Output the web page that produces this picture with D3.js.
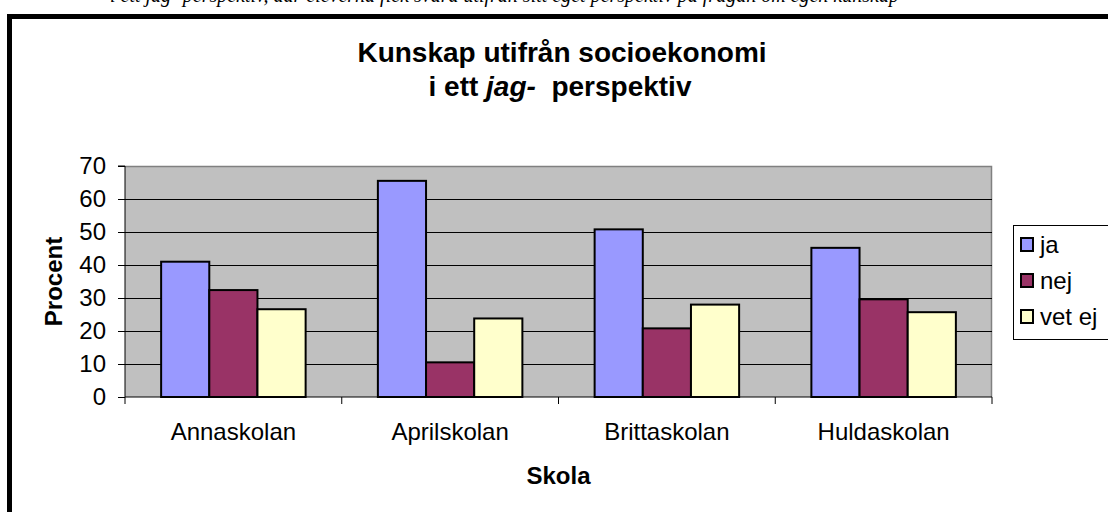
<!DOCTYPE html>
<html><head><meta charset="utf-8">
<script src="https://cdn.jsdelivr.net/npm/d3@7"></script>
<style>html,body{margin:0;padding:0;background:#fff;overflow:hidden}</style>
</head><body>
<svg id="c" width="1108" height="512"></svg>
<script>
const categories = ["Annaskolan", "Aprilskolan", "Brittaskolan", "Huldaskolan"];
const seriesNames = ["ja", "nej", "vet ej"];
const jaValues = [41.0, 65.5, 50.8, 45.2];
const nejValues = [32.4, 10.5, 20.8, 29.6];
const vetEjValues = [26.6, 23.8, 28.0, 25.7];
const yTicks = [0, 10, 20, 30, 40, 50, 60, 70];
const colors = ["#9999FF", "#993366", "#FFFFCC"];

const series = [jaValues, nejValues, vetEjValues];
const svg = d3.select("#c");
const F = "Arial, 'Liberation Sans', Helvetica, sans-serif";

// partial document text at the top (cut off by the page edge in the reference)
svg.append("text").attr("x", 110).attr("y", 2)
  .attr("font-family", "'Liberation Serif','Times New Roman',serif").attr("font-style", "italic")
  .attr("font-size", 20).attr("fill", "#000")
  .text("i ett jag- perspektiv, där eleverna fick svara utifrån sitt eget perspektiv på frågan om egen kunskap");

// frame
svg.append("rect").attr("x", 9.5).attr("y", 16.5).attr("width", 1200).attr("height", 600)
  .attr("fill", "#fff").attr("stroke", "#000").attr("stroke-width", 5);

const L = 125, R = 992, T = 166, B = 397;
const x0 = d3.scaleBand().domain(categories).range([L, R]).paddingInner(0).paddingOuter(0);
const inner = x0.bandwidth() / (3 + 1.5);
const y = d3.scaleLinear().domain([0, 70]).range([B, T]);

// plot area
svg.append("rect").attr("x", L).attr("y", T).attr("width", R - L).attr("height", B - T)
  .attr("fill", "#C0C0C0");
svg.append("path").attr("d", `M${L},${T + 0.5}H${R - 0.5}V${B}`).attr("fill", "none")
  .attr("stroke", "#808080").attr("stroke-width", 1.5);

// gridlines
svg.append("g").selectAll("line").data(yTicks.slice(1, -1)).join("line")
  .attr("x1", L).attr("x2", R).attr("y1", d => Math.round(y(d)) + 0.5).attr("y2", d => Math.round(y(d)) + 0.5)
  .attr("stroke", "#000").attr("stroke-width", 1);

// bars
const g = svg.append("g");
categories.forEach((c, i) => {
  series.forEach((s, j) => {
    g.append("rect")
      .attr("x", x0(c) + inner * 0.75 + j * inner)
      .attr("y", y(s[i]))
      .attr("width", inner)
      .attr("height", y(0) - y(s[i]))
      .attr("fill", colors[j]).attr("stroke", "#000").attr("stroke-width", 2);
  });
});

// y axis
const yAxis = d3.axisLeft(y).tickValues(yTicks).tickSize(7).tickPadding(12);
const ya = svg.append("g").attr("transform", `translate(${L},0)`).call(yAxis);
ya.selectAll("text").attr("font-family", F).attr("font-size", 24).attr("fill", "#000");
ya.selectAll("line").attr("stroke", "#000");
ya.select(".domain").attr("stroke", "#000").attr("d", `M-7,${T}H0V${B}`);

// x axis
const xa = svg.append("g").attr("transform", `translate(0,${B})`);
xa.append("line").attr("x1", L).attr("x2", R).attr("y1", 0).attr("y2", 0).attr("stroke", "#000").attr("stroke-width", 1);
const bounds = categories.map(c => x0(c)).concat([R]);
xa.selectAll("line.t").data(bounds).join("line").attr("class", "t")
  .attr("x1", d => d).attr("x2", d => d).attr("y1", 0).attr("y2", 7).attr("stroke", "#000");
xa.selectAll("text").data(categories).join("text")
  .attr("x", d => x0(d) + x0.bandwidth() / 2).attr("y", 43)
  .attr("text-anchor", "middle").attr("font-family", F).attr("font-size", 24).attr("fill", "#000")
  .text(d => d);

// axis titles
svg.append("text").attr("x", (L + R) / 2).attr("y", 484).attr("text-anchor", "middle")
  .attr("font-family", F).attr("font-size", 24).attr("font-weight", "bold").text("Skola");
svg.append("text").attr("transform", `translate(62,${(T + B) / 2}) rotate(-90)`).attr("text-anchor", "middle")
  .attr("font-family", F).attr("font-size", 24).attr("font-weight", "bold").text("Procent");

// title
const t1 = svg.append("text").attr("x", 562).attr("y", 62).attr("text-anchor", "middle")
  .attr("font-family", F).attr("font-size", 28).attr("font-weight", "bold");
t1.text("Kunskap utifrån socioekonomi");
const t2 = svg.append("text").attr("x", 560).attr("y", 96).attr("text-anchor", "middle")
  .attr("font-family", F).attr("font-size", 28).attr("font-weight", "bold");
t2.append("tspan").text("i ett ");
t2.append("tspan").attr("font-style", "italic").text("jag-");
t2.append("tspan").text("\u00a0 perspektiv");

// legend
const lg = svg.append("g");
lg.append("rect").attr("x", 1013.5).attr("y", 225.5).attr("width", 200).attr("height", 114)
  .attr("fill", "#fff").attr("stroke", "#000").attr("stroke-width", 1);
seriesNames.forEach((n, j) => {
  const yy = 238 + j * 36;
  lg.append("rect").attr("x", 1021).attr("y", yy).attr("width", 12).attr("height", 13)
    .attr("fill", colors[j]).attr("stroke", "#000").attr("stroke-width", 2);
  lg.append("text").attr("x", 1040).attr("y", yy + 15).attr("font-family", F).attr("font-size", 24)
    .attr("fill", "#000").text(n);
});
</script>
</body></html>
